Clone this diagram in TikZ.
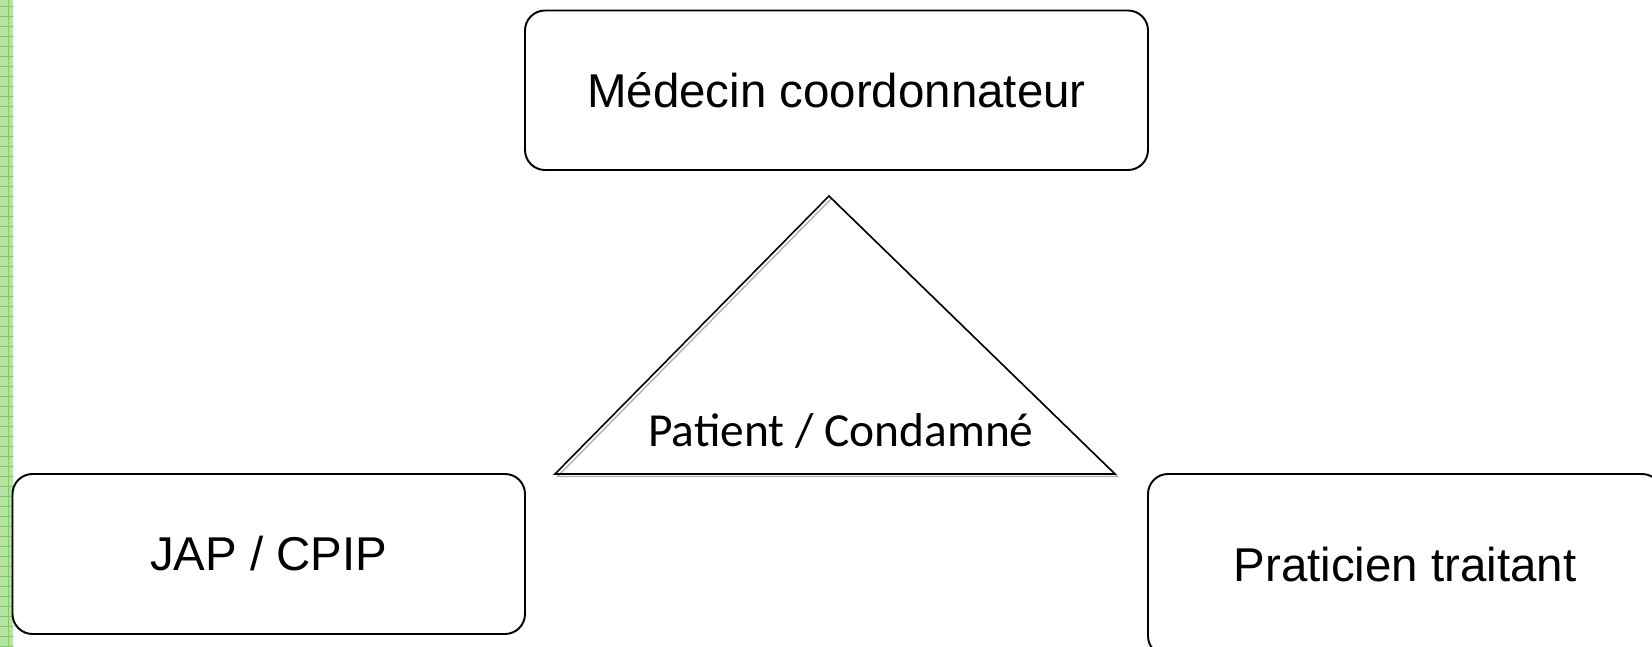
\documentclass[tikz,border=0pt]{standalone}
\usepackage{fontspec}
\setmainfont{Liberation Sans}
\newfontfamily\carlito{Carlito}

\definecolor{stripgreen}{RGB}{184,226,166}
\definecolor{stripline}{RGB}{124,204,96}

\begin{document}
\begin{tikzpicture}[
        rolebox/.style={draw, line width=1.1pt, rounded corners=0.4cm,
            font=\fontsize{27}{32}\selectfont, text height=19.3pt, text depth=0pt}
    ]
        \useasboundingbox (0,0) rectangle (33.04,12.92);

        % green strip on the left
        \fill[stripgreen] (0,0) rectangle (0.254,12.92);
        \draw[stripline, line width=0.6pt] (0.166,0) -- (0.166,12.92);
        \foreach \y in {0,0.2,...,12.8} {
            \draw[stripline, line width=0.5pt] (0,\y) -- (0.254,\y);
        }

        % the three partners
        \node[rolebox, minimum width=12.46cm, minimum height=3.19cm] (coord) at (16.73,11.115) {Médecin coordonnateur};
        \node[rolebox, minimum width=10.25cm, minimum height=3.2cm] (jap) at (5.375,1.84) {JAP / CPIP};
        \node[rolebox, minimum width=10.28cm, minimum height=3.64cm] (prat) at (28.1,1.62) {Praticien traitant};

        % patient triangle
        \coordinate (apex) at (16.58,9.0);
        \coordinate (baseL) at (11.1,3.44);
        \coordinate (baseR) at (22.3,3.44);
        \draw[black!30, line width=0.8pt] ([shift={(0.05,-0.05)}]apex) -- ([shift={(0.05,-0.05)}]baseL) -- ([shift={(0.05,-0.05)}]baseR) -- cycle;
        \draw[line width=0.9pt, line join=miter] (apex) -- (baseL) -- (baseR) -- cycle;
        \node[anchor=base, font=\carlito\fontsize{27}{32}\selectfont] (patient) at (16.82,4.0) {Patient / Condamné};
    \end{tikzpicture}
\end{document}
